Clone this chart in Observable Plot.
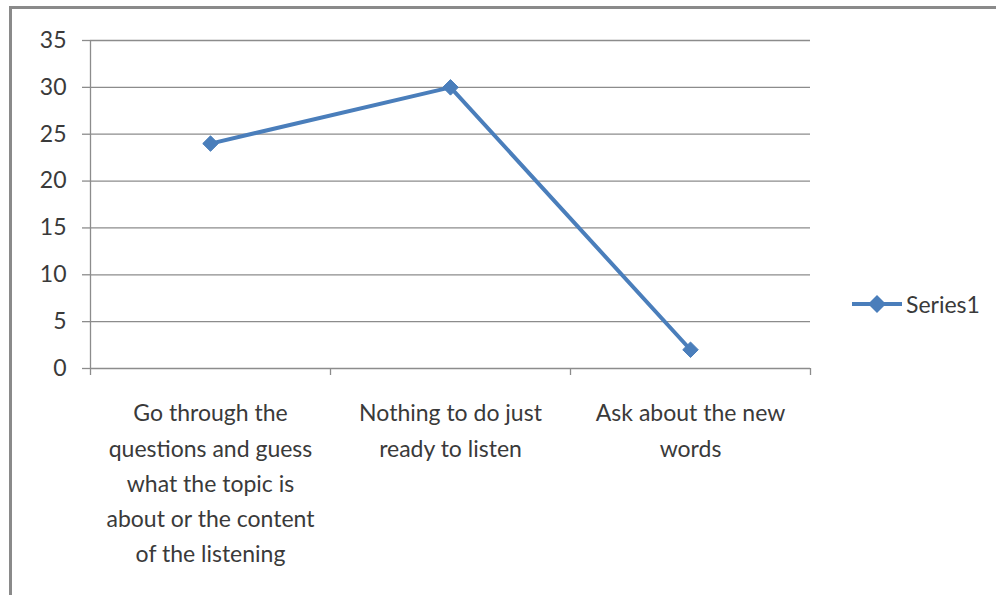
<!DOCTYPE html>
<html>
<head>
<meta charset="utf-8">
<script src="https://cdn.jsdelivr.net/npm/d3@7"></script>
<script src="https://cdn.jsdelivr.net/npm/@observablehq/plot@0.6"></script>
<style>
  html, body { margin: 0; padding: 0; background: #fff; }
  #wrap { position: relative; width: 996px; height: 595px; overflow: hidden; font-family: Lato, "Open Sans", sans-serif; }
  #frame { position: absolute; left: 9px; top: 6px; right: -10px; bottom: -10px; border-top: 3px solid #8a8a8a; border-left: 3px solid #8a8a8a; pointer-events: none; }
  #legend { position: absolute; left: 850px; top: 290px; display: flex; align-items: center; font-size: 23px; color: #3a3a3a; }
  #legend span { margin-left: 2px; }
</style>
</head>
<body>
<div id="wrap">
  <div id="chart"></div>
  <div id="frame"></div>
  <div id="legend"></div>
</div>
<script>
const categories = [
  "Go through the\nquestions and guess\nwhat the topic is\nabout or the content\nof the listening",
  "Nothing to do just\nready to listen",
  "Ask about the new\nwords"
];
const series1 = [24, 30, 2];
const seriesName = "Series1";
const yTicks = [0, 5, 10, 15, 20, 25, 30, 35];
const lineColor = "#4a7ebb";
const gridColor = "#8c8c8c";
const textColor = "#3a3a3a";

const data = categories.map((c, i) => ({category: c, index: i, value: series1[i]}));
const boundaries = d3.range(categories.length + 1);

const chart = Plot.plot({
  width: 996,
  height: 595,
  marginLeft: 90,
  marginRight: 186,
  marginTop: 40,
  marginBottom: 227,
  style: {fontFamily: "Lato, 'Open Sans', sans-serif", color: textColor, background: "transparent"},
  x: {type: "linear", domain: [0, categories.length], axis: null},
  y: {domain: [0, 35], axis: null},
  marks: [
    Plot.gridY(yTicks, {stroke: gridColor, strokeOpacity: 1, strokeWidth: 1.3}),
    Plot.axisY(yTicks, {tickSize: 8, tickPadding: 16, fontSize: 23, stroke: gridColor, strokeWidth: 1.3, fill: textColor, label: null}),
    Plot.ruleX([0], {stroke: gridColor, strokeWidth: 1.3}),
    Plot.axisX(boundaries, {tickSize: 7, tickFormat: () => "", stroke: gridColor, strokeWidth: 1.3, label: null}),
    Plot.line(data, {x: d => d.index + 0.5, y: "value", stroke: lineColor, strokeWidth: 4}),
    Plot.dot(data, {x: d => d.index + 0.5, y: "value", symbol: "diamond2", r: 7, fill: lineColor, stroke: lineColor, strokeWidth: 1}),
    Plot.text(data, {x: d => d.index + 0.5, text: "category", frameAnchor: "bottom", lineAnchor: "top", dy: 28, fontSize: 23, lineHeight: 1.53, fill: textColor})
  ]
});
document.getElementById("chart").appendChild(chart);

const legend = document.getElementById("legend");
legend.innerHTML = `<svg width="54" height="20"><line x1="2" y1="10" x2="52" y2="10" stroke="${lineColor}" stroke-width="4"/><path d="M27,1 L36,10 L27,19 L18,10 Z" fill="${lineColor}"/></svg><span>${seriesName}</span>`;
</script>
</body>
</html>
